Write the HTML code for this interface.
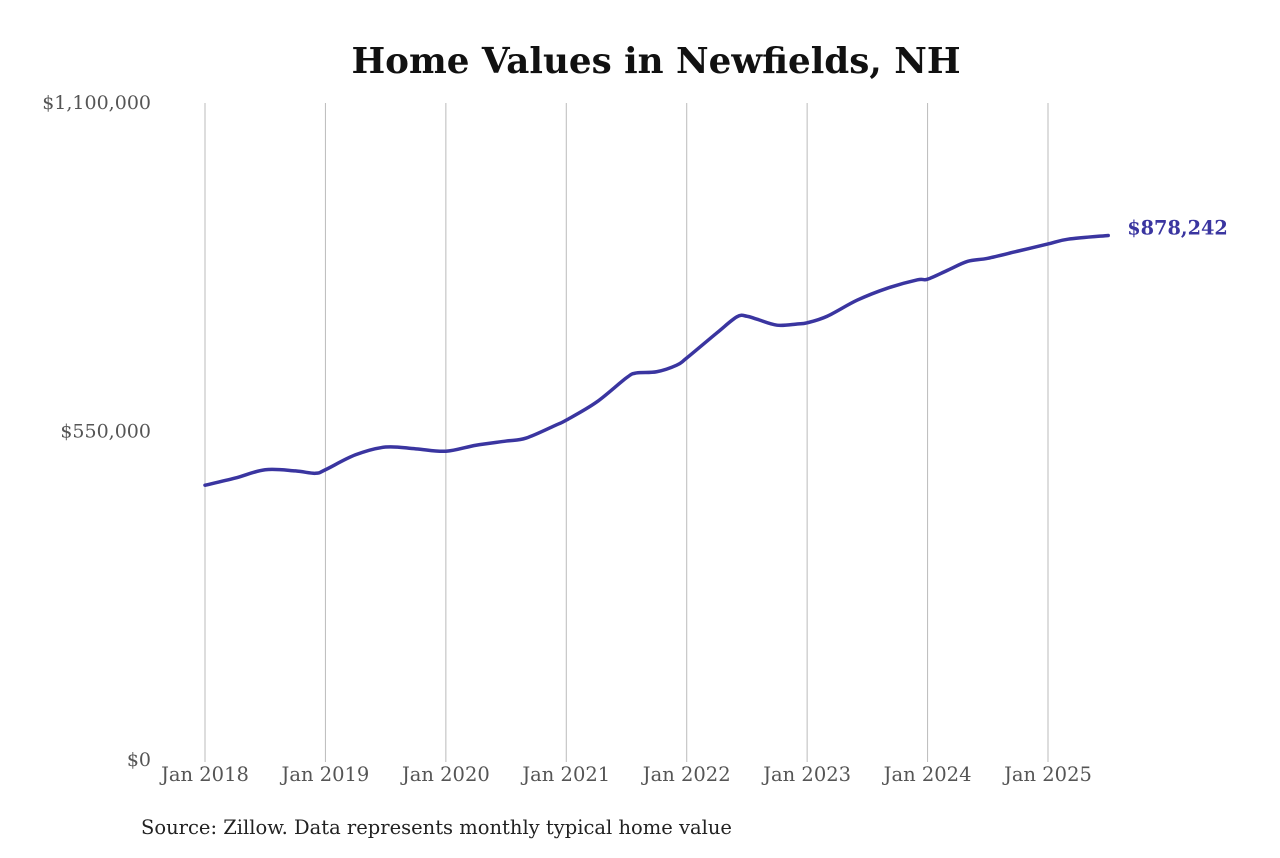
<!DOCTYPE html>
<html><head><meta charset="utf-8">
<style>
body{margin:0;background:#fff;}
svg text{font-family:"DejaVu Serif","Liberation Serif",serif;}
</style></head>
<body>
<svg width="1280" height="853" viewBox="0 0 1280 853">
<text x="656" y="73" text-anchor="middle" font-size="35.7" font-weight="bold" fill="#111">Home Values in Newfields, NH</text>
<g id="grid"></g>
<g id="yticks"></g>
<g id="xticks"></g>
<path id="line" fill="none" stroke="#3a35a0" stroke-width="3.5" stroke-linejoin="round" stroke-linecap="round"/>
<text id="endlabel" font-size="19.3" font-weight="bold" fill="#3a35a0"></text>
<text x="141" y="834" font-size="19.5" fill="#222">Source: Zillow. Data represents monthly typical home value</text>
</svg>
<script>
// months since Jan 2018
const months=[0,3,6,9,11,12,15,18,21,24,27,30,32,35,36,39,42,43,45,47,48,51,53,54,55,57,59,60,62,65,68,71,72,74,76,78,81,84,86,90];
const values=[460000,472000,486000,484000,480000,486000,511000,524000,521000,517000,527000,534000,539000,561000,569000,599000,640000,648000,650000,661000,673000,715000,742000,743000,738000,728000,730000,732000,743000,770000,790000,804000,805000,820000,835000,840000,852000,864000,872000,878242];
const yTicks=[0,550000,1100000];
const yTickLabels=["$0","$550,000","$1,100,000"];
const xTickMonths=[0,12,24,36,48,60,72,84];
const xTickLabels=["Jan 2018","Jan 2019","Jan 2020","Jan 2021","Jan 2022","Jan 2023","Jan 2024","Jan 2025"];
const lastLabel="$878,242";

const X=m=>205+m*(1048-205)/84;
const Y=v=>760-v*657/1100000;
const NS="http://www.w3.org/2000/svg";
const grid=document.getElementById('grid'),yt=document.getElementById('yticks'),xt=document.getElementById('xticks');
xTickMonths.forEach((m,i)=>{
  const l=document.createElementNS(NS,'line');
  l.setAttribute('x1',X(m));l.setAttribute('x2',X(m));l.setAttribute('y1',103);l.setAttribute('y2',762);
  l.setAttribute('stroke','#bbb');l.setAttribute('stroke-width','1');
  
  
  grid.appendChild(l);
  const t=document.createElementNS(NS,'text');
  t.setAttribute('x',X(m));t.setAttribute('y',781);t.setAttribute('text-anchor','middle');
  t.setAttribute('font-size','19.5');t.setAttribute('fill','#555');
  t.textContent=xTickLabels[i];
  
  
  xt.appendChild(t);
});
yTicks.forEach((v,i)=>{
  const t=document.createElementNS(NS,'text');
  t.setAttribute('x',151);t.setAttribute('y',Y(v)+6);t.setAttribute('text-anchor','end');
  t.setAttribute('font-size','19');t.setAttribute('fill','#555');
  t.textContent=yTickLabels[i];
  
  
  yt.appendChild(t);
});
const P=months.map((m,i)=>[X(m),Y(values[i])]);
let d='M'+P[0][0]+','+P[0][1];
for(let i=0;i<P.length-1;i++){
  const p0=P[i-1]||P[i],p1=P[i],p2=P[i+1],p3=P[i+2]||P[i+1];
  const c1=[p1[0]+(p2[0]-p0[0])/6,p1[1]+(p2[1]-p0[1])/6];
  const c2=[p2[0]-(p3[0]-p1[0])/6,p2[1]-(p3[1]-p1[1])/6];
  d+=' C'+c1+' '+c2+' '+p2;
}
document.getElementById('line').setAttribute('d',d);
const el=document.getElementById('endlabel');
const lp=P[P.length-1];
el.setAttribute('x',lp[0]+19);el.setAttribute('y',lp[1]-1);
el.textContent=lastLabel;
</script>
</body></html>
